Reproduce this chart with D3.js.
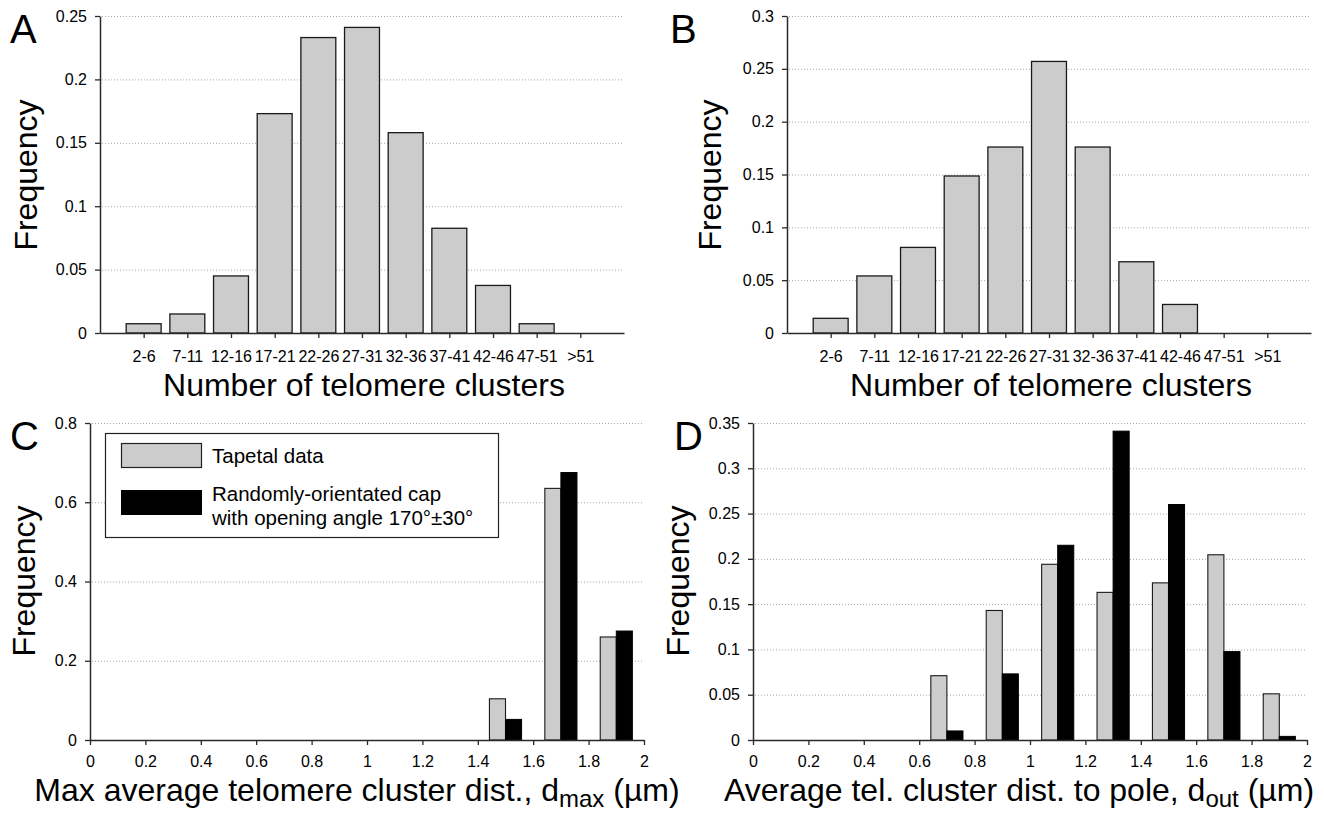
<!DOCTYPE html>
<html>
<head>
<meta charset="utf-8">
<script src="https://cdn.jsdelivr.net/npm/d3@7"></script>
<style>
  html, body { margin: 0; padding: 0; background: #fff; }
  svg { display: block; }
  text { font-family: "Liberation Sans", Arial, sans-serif; fill: #000; }
</style>
</head>
<body>
<svg id="chart" width="1324" height="814"></svg>
<script>
// ---------------- DATA ----------------
const clusterCategories = ["2-6","7-11","12-16","17-21","22-26","27-31","32-36","37-41","42-46","47-51",">51"];
const frequencyA = [0.0073, 0.015, 0.045, 0.173, 0.233, 0.241, 0.158, 0.0826, 0.0375, 0.0073, 0];
const frequencyB = [0.0139, 0.054, 0.081, 0.1486, 0.176, 0.257, 0.176, 0.0674, 0.027, 0, 0];

const binsC = [1.5, 1.7, 1.9];
const tapetalC = [0.104, 0.635, 0.260];
const capC = [0.052, 0.675, 0.275];

const binsD = [0.7, 0.9, 1.1, 1.3, 1.5, 1.7, 1.9];
const tapetalD = [0.071, 0.143, 0.194, 0.163, 0.1735, 0.2045, 0.051];
const capD = [0.010, 0.073, 0.215, 0.341, 0.260, 0.0976, 0.004];

const yTicksA = [0, 0.05, 0.1, 0.15, 0.2, 0.25];
const yTicksB = [0, 0.05, 0.1, 0.15, 0.2, 0.25, 0.3];
const yTicksC = [0, 0.2, 0.4, 0.6, 0.8];
const yTicksD = [0, 0.05, 0.1, 0.15, 0.2, 0.25, 0.3, 0.35];
const xTicksCD = [0, 0.2, 0.4, 0.6, 0.8, 1, 1.2, 1.4, 1.6, 1.8, 2];

const legendLabels = ["Tapetal data", ["Randomly-orientated cap", "with opening angle 170°±30°"]];
const yTitle = "Frequency";
const xTitleAB = "Number of telomere clusters";

// ---------------- DRAW ----------------
const svg = d3.select("#chart");
svg.append("rect").attr("width", 1324).attr("height", 814).attr("fill", "#fff");

const GRAY = "#cccccc";
const AXIS = "#2a2a2a";
const TITLE_SIZE = 32;
const TICK_SIZE = 16;
const fmt = d => String(+d.toFixed(2));

function frame(p) {
  const g = svg.append("g");
  const y = d3.scaleLinear().domain([0, p.yMax]).range([p.bottom, p.top]);
  g.append("g").selectAll("line").data(p.yTicks.filter(t => t > 0)).join("line")
    .attr("x1", p.left + 2).attr("x2", p.right)
    .attr("y1", d => y(d) + 0.5).attr("y2", d => y(d) + 0.5)
    .attr("stroke", "#a8a8a8").attr("stroke-width", 1).attr("stroke-dasharray", "1,2");
  return { g, y };
}

function styleAxis(sel, size) {
  sel.selectAll("path.domain").attr("stroke", AXIS).attr("stroke-width", 1.5);
  sel.selectAll(".tick line").attr("stroke", AXIS).attr("stroke-width", 1.3);
  sel.selectAll(".tick text").attr("font-size", size).attr("fill", "#111")
     .attr("font-family", "'Liberation Sans', Arial, sans-serif");
}

function yAxis(g, y, p) {
  const ax = g.append("g").attr("transform", `translate(${p.left},0)`)
    .call(d3.axisLeft(y).tickValues(p.yTicks).tickFormat(fmt).tickSize(5).tickSizeOuter(0).tickPadding(8));
  styleAxis(ax, TICK_SIZE);
}

function panelLetter(txt, x, yb) {
  svg.append("text").attr("x", x).attr("y", yb).attr("font-size", 40).text(txt);
}

function yLabel(bx, cy) {
  svg.append("text").attr("transform", `translate(${bx},${cy}) rotate(-90)`)
    .attr("text-anchor", "middle").attr("font-size", TITLE_SIZE).text(yTitle);
}

// ---- Panels A & B ----
function histPanel(p, values) {
  const { g, y } = frame(p);
  const x = d3.scaleLinear().domain([0, clusterCategories.length + 1]).range([p.left, p.right]);
  const step = x(1) - x(0);
  const bw = step * 0.8;
  g.append("g").selectAll("rect").data(values).join("rect")
    .filter(d => d > 0)
    .attr("x", (d, i) => x(i + 1) - bw / 2)
    .attr("width", bw)
    .attr("y", d => y(d))
    .attr("height", d => y(0) - y(d))
    .attr("fill", GRAY).attr("stroke", "#1a1a1a").attr("stroke-width", 1.3);
  const xa = g.append("g").attr("transform", `translate(0,${p.bottom})`)
    .call(d3.axisBottom(x).tickValues(d3.range(1, clusterCategories.length + 1))
      .tickFormat(i => clusterCategories[i - 1]).tickSize(5).tickSizeOuter(0).tickPadding(13));
  styleAxis(xa, TICK_SIZE);
  yAxis(g, y, p);
  svg.append("text").attr("x", (p.left + p.right) / 2 + 2).attr("y", p.bottom + 63)
    .attr("text-anchor", "middle").attr("font-size", TITLE_SIZE).text(xTitleAB);
}

histPanel({ left: 100, right: 624, top: 16, bottom: 333, yMax: 0.25, yTicks: yTicksA }, frequencyA);
histPanel({ left: 787, right: 1311, top: 16, bottom: 333, yMax: 0.3, yTicks: yTicksB }, frequencyB);

// ---- Panels C & D ----
function pairPanel(p, bins, grayVals, blackVals) {
  const { g, y } = frame(p);
  const x = d3.scaleLinear().domain([0, 2]).range([p.left, p.right]);
  const bw = x(0.058) - x(0);
  const gb = g.append("g");
  gb.selectAll("rect.t").data(bins).join("rect").attr("class", "t")
    .attr("x", (d) => x(d) - bw).attr("width", bw)
    .attr("y", (d, i) => y(grayVals[i])).attr("height", (d, i) => y(0) - y(grayVals[i]))
    .attr("fill", GRAY).attr("stroke", "#1a1a1a").attr("stroke-width", 1.1);
  gb.selectAll("rect.c").data(bins).join("rect").attr("class", "c")
    .attr("x", (d) => x(d)).attr("width", bw)
    .attr("y", (d, i) => y(blackVals[i])).attr("height", (d, i) => y(0) - y(blackVals[i]))
    .attr("fill", "#000").attr("stroke", "#000").attr("stroke-width", 1);
  const xa = g.append("g").attr("transform", `translate(0,${p.bottom})`)
    .call(d3.axisBottom(x).tickValues(xTicksCD).tickFormat(fmt).tickSize(5).tickSizeOuter(0).tickPadding(11));
  styleAxis(xa, TICK_SIZE);
  yAxis(g, y, p);
  return g;
}

const pC = { left: 90, right: 644, top: 423, bottom: 740, yMax: 0.8, yTicks: yTicksC };
const pD = { left: 753, right: 1307, top: 423, bottom: 740, yMax: 0.35, yTicks: yTicksD };
pairPanel(pC, binsC, tapetalC, capC);
pairPanel(pD, binsD, tapetalD, capD);

function subTitle(cx, yb, before, sub, after) {
  const t = svg.append("text").attr("x", cx).attr("y", yb).attr("text-anchor", "middle").attr("font-size", TITLE_SIZE);
  t.append("tspan").text(before);
  t.append("tspan").attr("font-size", 24).attr("dy", 6).text(sub);
  t.append("tspan").attr("dy", -6).text(after);
}
subTitle(357, 801, "Max average telomere cluster dist., d", "max", " (µm)");
subTitle(1019, 801, "Average tel. cluster dist. to pole, d", "out", " (µm)");

// legend in C
const lg = svg.append("g");
lg.append("rect").attr("x", 105.5).attr("y", 433.5).attr("width", 393).attr("height", 104)
  .attr("fill", "#fff").attr("stroke", "#222").attr("stroke-width", 1.2);
lg.append("rect").attr("x", 121.5).attr("y", 443.5).attr("width", 80).attr("height", 24)
  .attr("fill", GRAY).attr("stroke", "#222").attr("stroke-width", 1.2);
lg.append("rect").attr("x", 121.5).attr("y", 490.5).attr("width", 80).attr("height", 24)
  .attr("fill", "#000").attr("stroke", "#000").attr("stroke-width", 1);
lg.append("text").attr("x", 212).attr("y", 463).attr("font-size", 20.5).text(legendLabels[0]);
lg.append("text").attr("x", 212).attr("y", 501).attr("font-size", 20.5).text(legendLabels[1][0]);
lg.append("text").attr("x", 212).attr("y", 525).attr("font-size", 20.5).text(legendLabels[1][1]);

// axis titles (baseline x positions) and panel letters
yLabel(37, 175); yLabel(721, 175); yLabel(35, 581); yLabel(689, 581);
panelLetter("A", 10, 43);
panelLetter("B", 670, 43);
panelLetter("C", 10, 450);
panelLetter("D", 674, 450);
</script>
</body>
</html>
